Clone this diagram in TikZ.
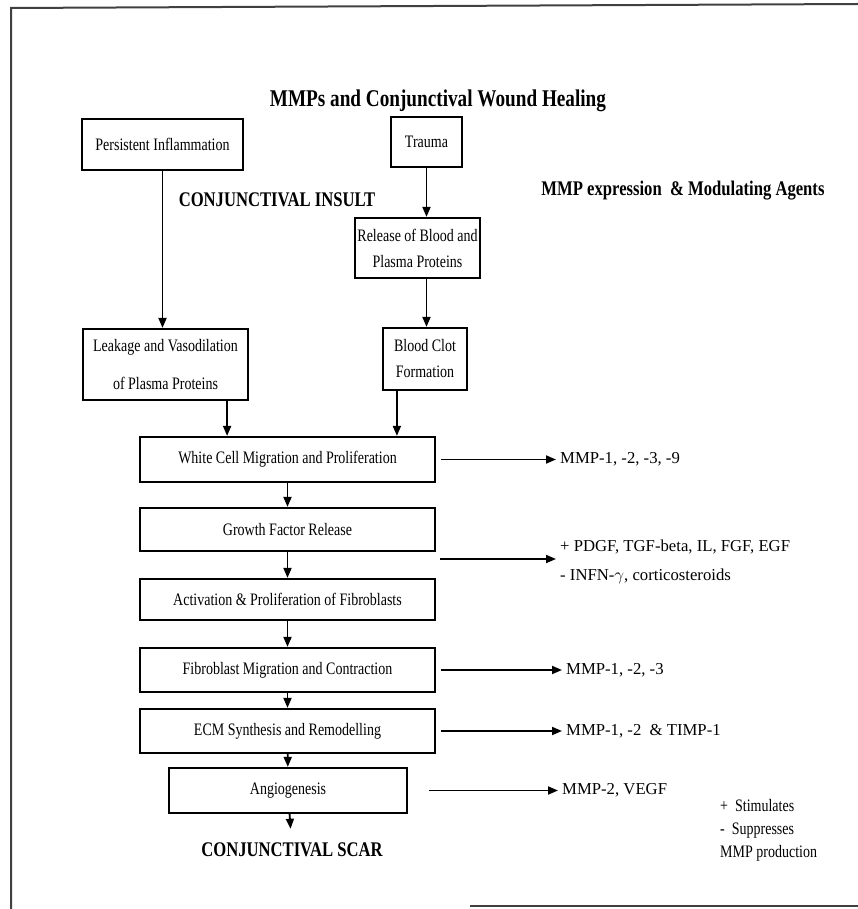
\documentclass[tikz,border=0pt]{standalone}
\usepackage{fontspec}
\setmainfont{Liberation Serif}
\newfontfamily\narrowfont[FakeStretch=0.8]{Liberation Serif}
\usetikzlibrary{arrows.meta}

\tikzset{
  stage/.style={draw, line width=2.2pt, inner sep=0pt, align=center,
    font=\narrowfont\fontsize{17.5}{26}\selectfont},
  flow/.style={-{Triangle[length=10pt,width=8pt]}, line width=1.8pt},
  agent/.style={anchor=west, inner sep=4pt, align=left,
    font=\fontsize{16.7}{29}\selectfont},
  heading/.style={font=\narrowfont\bfseries\fontsize{20.8}{24}\selectfont},
  maintitle/.style={font=\narrowfont\bfseries\fontsize{24}{28}\selectfont},
  legendtext/.style={anchor=west, align=left, inner sep=2pt,
    font=\narrowfont\fontsize{17.5}{23}\selectfont},
}

\begin{document}
\begin{tikzpicture}[x=1pt,y=-1pt]
    \useasboundingbox (0,0) rectangle (858,909);

    % Frame
    \draw[line width=2pt, gray!50!black] (11,909) -- (11,8) -- (858,4);
    \draw[line width=2pt, gray!50!black] (470,906) -- (858,906);

    % Headings
    \node[maintitle] (title) at (438,101) {MMPs and Conjunctival Wound Healing};
    \node[heading] (insult) at (277,200) {CONJUNCTIVAL INSULT};
    \node[heading] (agents) at (683,191) {MMP expression \ \& Modulating Agents};

    % Insult boxes
    \node[stage, minimum width=161pt, minimum height=51pt] (infl) at (162.5,144.5) {Persistent Inflammation};
    \node[stage, minimum width=71pt, minimum height=50pt] (trauma) at (426.5,142) {Trauma};
    \node[stage, minimum width=125pt, minimum height=60pt] (release) at (417.5,248) {Release of Blood and\\Plasma Proteins};
    \node[stage, minimum width=165pt, minimum height=71pt] (leak) at (165.5,364.5) {Leakage and Vasodilation\\[12pt]of Plasma Proteins};
    \node[stage, minimum width=84pt, minimum height=62pt] (clot) at (425,359) {Blood Clot\\Formation};

    % Healing stages
    \node[stage, minimum width=295pt, minimum height=45pt] (white) at (287.5,459.5) {White Cell Migration and Proliferation};
    \node[stage, minimum width=295pt, minimum height=43pt] (growth) at (287.5,529.5) {Growth Factor Release};
    \node[stage, minimum width=295pt, minimum height=41pt] (activ) at (287.5,599.5) {Activation \& Proliferation of Fibroblasts};
    \node[stage, minimum width=295pt, minimum height=44pt] (fibro) at (287.5,670) {Fibroblast Migration and Contraction};
    \node[stage, minimum width=295pt, minimum height=44pt] (ecm) at (287.5,731) {ECM Synthesis and Remodelling};
    \node[stage, minimum width=238pt, minimum height=45pt] (angio) at (288,790.5) {Angiogenesis};
    \node[heading, inner ysep=14pt] (scar) at (292,850) {CONJUNCTIVAL SCAR};

    % MMP expression
    \node[agent] (mmpwhite) at (556,459.5) {MMP-1, -2, -3, -9};
    \node[agent] (mmpgrowth) at (556,562) {+ PDGF, TGF-beta, IL, FGF, EGF\\- INFN-$\gamma$, corticosteroids};
    \node[agent] (mmpfibro) at (562,670) {MMP-1, -2, -3};
    \node[agent] (mmpecm) at (562,731) {MMP-1, -2 \ \& TIMP-1};
    \node[agent] (mmpangio) at (558,790.5) {MMP-2, VEGF};
    \node[legendtext] (legend) at (718,830) {+ \ Stimulates\\- \ Suppresses\\MMP production};
    \coordinate (gfout) at (440,559);

    % Arrows
    \draw[flow] (infl.south) -- (infl.south |- leak.north);
    \draw[flow] (trauma.south) -- (trauma.south |- release.north);
    \draw[flow] (trauma.south |- release.south) -- (trauma.south |- clot.north);
    \draw[flow] ([xshift=-22pt]leak.south east) -- ([xshift=-22pt]leak.south east |- white.north);
    \draw[flow] ([xshift=15pt]clot.south west) -- ([xshift=15pt]clot.south west |- white.north);
    \draw[flow] (white) -- (growth);
    \draw[flow] (growth) -- (activ);
    \draw[flow] (activ) -- (fibro);
    \draw[flow] (fibro) -- (ecm);
    \draw[flow] (ecm) -- (angio);
    \draw[flow] (angio) -- (scar);

    % Arrows to MMPs
    \draw[flow] ([xshift=5pt]white.east) -- (mmpwhite.west);
    \draw[flow] (gfout) -- (gfout -| mmpgrowth.west);
    \draw[flow] ([xshift=5pt]fibro.east) -- (mmpfibro.west);
    \draw[flow] ([xshift=5pt]ecm.east) -- (mmpecm.west);
    \draw[flow] ([xshift=21pt]angio.east) -- (mmpangio.west);
\end{tikzpicture}
\end{document}
